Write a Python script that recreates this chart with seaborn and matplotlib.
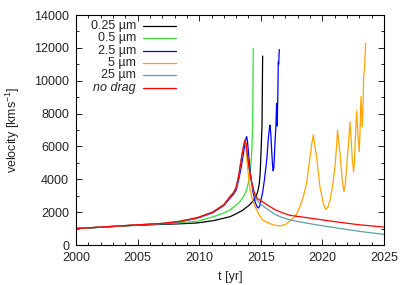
import numpy as np
import pandas as pd
import seaborn as sns
import matplotlib.pyplot as plt
from matplotlib.ticker import MultipleLocator

# velocity curves (t in yr, v in km/s)
t_025 = [2000, 2002, 2004.4, 2007.1, 2008.4, 2009.8, 2011.14, 2012.5, 2013.0, 2013.5, 2014.07, 2014.4, 2014.6,
         2014.75, 2014.88, 2014.95, 2015.0, 2015.1, 2015.15]
v_025 = [1000, 1080, 1180, 1260, 1290, 1340, 1480, 1720, 1900, 2100, 2430, 2700, 2940,
         3250, 3750, 4400, 5280, 7300, 11500]

t_05 = [2000, 2002, 2004.4, 2007.1, 2008.4, 2009.8, 2011.14, 2012.0, 2012.5, 2013.0, 2013.3, 2013.6, 2013.8,
        2014.0, 2014.1, 2014.2, 2014.28, 2014.34, 2014.39]
v_05 = [1000, 1080, 1190, 1290, 1350, 1440, 1720, 1950, 2130, 2430, 2640, 2950, 3250,
        3800, 4250, 4870, 5900, 7300, 11970]

t_25 = [2000, 2002, 2004.4, 2007.1, 2008.4, 2009.8, 2011.1, 2012.0, 2012.5, 2012.8, 2013.0, 2013.2, 2013.4,
        2013.55, 2013.7, 2013.8, 2013.85, 2013.92, 2014.0, 2014.15, 2014.35, 2014.55, 2014.7, 2014.8, 2014.9,
        2015.0, 2015.15, 2015.3, 2015.5, 2015.6, 2015.7, 2015.75, 2015.82, 2015.88, 2015.95, 2016.0, 2016.06,
        2016.15, 2016.23, 2016.28, 2016.33, 2016.38, 2016.42, 2016.45, 2016.5]
v_25 = [1000, 1085, 1195, 1300, 1420, 1620, 1960, 2400, 2850, 3100, 3350, 3950, 4700,
        5400, 6100, 6500, 6590, 6300, 5600, 4400, 3300, 2600, 2320, 2250, 2350,
        2700, 3200, 4000, 5300, 6390, 7100, 7300, 6700, 5780, 4900, 4520, 4700,
        6190, 7300, 8620, 7240, 9000, 11150, 11000, 11900]

t_5 = [2000, 2002, 2004.4, 2007.1, 2008.4, 2009.8, 2011.1, 2012.0, 2012.5, 2012.8, 2013.0, 2013.2, 2013.35,
       2013.5, 2013.62, 2013.72, 2013.8, 2013.88, 2014.0, 2014.1, 2014.3, 2014.6, 2014.9, 2015.15, 2015.5,
       2016.0, 2016.56, 2017.0, 2017.37, 2017.8, 2018.18, 2018.45, 2018.72, 2019.0, 2019.15, 2019.26, 2019.38,
       2019.53, 2019.8, 2020.07, 2020.26, 2020.45, 2020.62, 2020.85, 2021.02, 2021.15, 2021.23, 2021.32, 2021.43,
       2021.6, 2021.75, 2021.85, 2021.97, 2022.1, 2022.24, 2022.35, 2022.43, 2022.53, 2022.6, 2022.67, 2022.78,
       2022.9, 2022.99, 2023.05, 2023.13, 2023.2, 2023.24, 2023.3, 2023.35, 2023.42, 2023.51]
v_5 = [1000, 1090, 1200, 1320, 1440, 1650, 2000, 2450, 2940, 3200, 3500, 4200, 4900,
       5600, 6100, 6390, 5900, 5100, 4200, 3500, 2800, 2230, 1800, 1520, 1380,
       1220, 1160, 1250, 1460, 1750, 2330, 2950, 3750, 5370, 6200, 6700, 6100,
       5370, 3550, 2540, 2170, 2300, 2740, 3700, 4760, 6000, 7000, 6300, 5580,
       4000, 3250, 3600, 4760, 6000, 7500, 6200, 5170, 4460, 5000, 6390, 8170,
       6500, 5680, 6800, 9030, 7800, 7200, 8500, 10240, 10800, 12280]

t_25um = [2000, 2002, 2004.4, 2007.1, 2008.4, 2009.8, 2011.1, 2012.0, 2012.5, 2012.8, 2013.0, 2013.2, 2013.35,
          2013.5, 2013.62, 2013.72, 2013.8, 2013.9, 2014.05, 2014.25, 2014.45, 2014.6, 2014.8, 2015.1, 2015.5,
          2016.23, 2016.8, 2017.4, 2018.1, 2019.5, 2021.4, 2023.0, 2025.0]
v_25um = [1000, 1090, 1200, 1320, 1440, 1650, 2000, 2450, 2940, 3200, 3500, 4200, 4900,
          5600, 6100, 6390, 6150, 5600, 4700, 3850, 3150, 2850, 2620, 2420, 2200,
          1830, 1660, 1520, 1420, 1230, 1010, 830, 650]

t_nd = [2000, 2002, 2004.4, 2007.1, 2008.4, 2009.8, 2011.1, 2012.0, 2012.5, 2012.8, 2013.0, 2013.2, 2013.35,
        2013.5, 2013.62, 2013.72, 2013.8, 2013.9, 2014.05, 2014.25, 2014.45, 2014.6, 2014.8, 2015.1, 2015.5,
        2016.2, 2016.8, 2017.4, 2018.1, 2019.5, 2021.4, 2023.0, 2025.0]
v_nd = [1000, 1090, 1200, 1320, 1440, 1650, 2000, 2450, 2940, 3200, 3500, 4200, 4900,
        5600, 6100, 6390, 6150, 5600, 4700, 3850, 3250, 2940, 2780, 2650, 2450,
        2130, 1950, 1800, 1730, 1580, 1380, 1230, 1090]

labels = ["0.25 µm", "0.5 µm", "2.5 µm", "5 µm", "25 µm", "no drag"]
colors = ["#000000", "#33e033", "#0000ff", "#ffa500", "#5fa0a0", "#ff0000"]
series = [(t_025, v_025), (t_05, v_05), (t_25, v_25), (t_5, v_5), (t_25um, v_25um), (t_nd, v_nd)]

sns.set_style("ticks")
plt.rcParams['font.family'] = ['Liberation Sans', 'DejaVu Sans']
plt.rcParams['mathtext.fontset'] = 'custom'
plt.rcParams['mathtext.rm'] = 'Liberation Sans'

fig = plt.figure(figsize=(4.07, 2.85), dpi=100)
ax = fig.add_axes([76 / 407, 40 / 285, 308 / 407, 230 / 285])

for (t, v), col in zip(series, colors):
    df = pd.DataFrame({"t": t, "v": v})
    sns.lineplot(data=df, x="t", y="v", color=col, lw=0.9, ax=ax,
                 sort=False, estimator=None, legend=False)

# gnuplot-style key: labels right-aligned, sample line to the right
key_y = [0.953, 0.899, 0.845, 0.791, 0.737, 0.683]
for i, (lab, col) in enumerate(zip(labels, colors)):
    ax.text(0.195, key_y[i], lab, transform=ax.transAxes, ha='right', va='center',
            fontsize=9, style='italic' if lab == "no drag" else 'normal')
    ax.plot([0.218, 0.325], [key_y[i], key_y[i]], transform=ax.transAxes, color=col, lw=0.9)

ax.set_xlim(2000, 2025)
ax.set_ylim(0, 14000)
ax.xaxis.set_major_locator(MultipleLocator(5))
ax.xaxis.set_minor_locator(MultipleLocator(1))
ax.yaxis.set_major_locator(MultipleLocator(2000))
ax.yaxis.set_minor_locator(MultipleLocator(1000))
ax.tick_params(which='both', direction='in', top=True, right=True, labelsize=9, width=0.6, color='black')
ax.tick_params(which='major', length=4)
ax.tick_params(which='minor', length=2)
ax.tick_params(axis='x', which='major', pad=5)
ax.tick_params(axis='y', which='major', pad=5)
for s in ax.spines.values():
    s.set_linewidth(0.8)
    s.set_color('black')

ax.set_xlabel("t [yr]", fontsize=9, labelpad=5)
ax.set_ylabel("velocity [kms$^{-1}$]", fontsize=9, labelpad=9)

fig.savefig("out.png", dpi=100)
